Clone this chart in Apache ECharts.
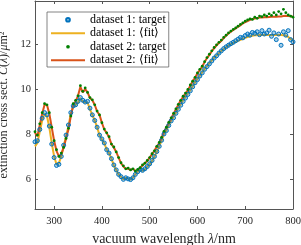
<!DOCTYPE html>
<html><head><meta charset="utf-8">
<script src="https://cdn.jsdelivr.net/npm/echarts@6/dist/echarts.min.js"></script>
<style>html,body{margin:0;padding:0;background:#fff}#c{width:301px;height:245px}</style>
</head><body><div id="c"></div>
<script>
const wavelength = [
260,265,270,275,280,285,290,295,300,305,
310,315,320,325,330,335,340,345,350,355,
360,365,370,375,380,385,390,395,400,405,
410,415,420,425,430,435,440,445,450,455,
460,465,470,475,480,485,490,495,500,505,
510,515,520,525,530,535,540,545,550,555,
560,565,570,575,580,585,590,595,600,605,
610,615,620,625,630,635,640,645,650,655,
660,665,670,675,680,685,690,695,700,705,
710,715,720,725,730,735,740,745,750,755,
760,765,770,775,780,785,790,795,800];
const target1 = [
7.65,7.7,8.2,8.7,8.95,8.85,8.35,7.55,6.95,6.6,
6.65,7.0,7.5,7.95,8.4,8.95,9.25,9.3,9.45,9.62,
9.5,9.42,9.45,9.15,8.85,8.6,8.3,7.95,7.78,7.6,
7.3,7.15,6.9,6.62,6.4,6.2,6.1,5.98,6.05,6.0,
5.97,6.05,6.2,6.32,6.42,6.38,6.45,6.55,6.67,6.82,
7.0,7.22,7.45,7.72,8.0,8.15,8.38,8.58,8.72,8.92,
9.1,9.28,9.45,9.6,9.76,9.92,10.1,10.28,10.42,10.58,
10.72,10.88,11.0,11.12,11.25,11.38,11.48,11.6,11.7,11.8,
11.88,11.95,12.02,12.08,12.15,12.22,12.3,12.28,12.38,12.45,
12.4,12.52,12.48,12.55,12.42,12.6,12.45,12.5,12.62,12.35,
12.5,12.2,12.45,11.95,12.55,12.4,12.6,12.2,12.1];
const fit1 = [
7.45,7.6,8.1,8.6,8.9,8.8,8.3,7.6,7.0,6.65,
6.7,7.0,7.45,7.9,8.35,8.9,9.2,9.3,9.4,9.6,
9.45,9.4,9.4,9.1,8.85,8.6,8.3,7.95,7.75,7.6,
7.3,7.15,6.9,6.6,6.4,6.2,6.1,5.98,6.05,6.02,
5.97,6.05,6.2,6.32,6.4,6.36,6.42,6.55,6.65,6.8,
7.0,7.2,7.45,7.7,8.0,8.15,8.4,8.6,8.75,8.95,
9.15,9.32,9.5,9.65,9.8,9.95,10.12,10.3,10.45,10.6,
10.75,10.9,11.02,11.15,11.28,11.4,11.5,11.6,11.7,11.78,
11.86,11.94,12.0,12.05,12.1,12.15,12.19,12.24,12.28,12.32,
12.35,12.37,12.39,12.4,12.41,12.41,12.41,12.41,12.41,12.41,
12.41,12.41,12.41,12.41,12.4,12.38,12.32,12.24,12.15];
const target2 = [
8.1,7.95,8.45,8.95,9.35,9.3,8.95,8.3,7.7,7.3,
7.0,7.15,7.4,7.8,8.25,8.8,9.35,9.5,9.7,10.15,
9.9,10.05,9.85,9.62,9.52,9.3,9.02,8.85,8.5,8.22,
8.05,7.88,7.55,7.42,7.2,6.95,6.72,6.58,6.45,6.48,
6.4,6.45,6.35,6.42,6.5,6.62,6.7,6.82,6.95,7.12,
7.25,7.45,7.62,7.85,8.12,8.3,8.52,8.72,8.92,9.12,
9.32,9.5,9.68,9.82,9.98,10.18,10.35,10.52,10.72,10.88,
11.02,11.22,11.4,11.55,11.7,11.85,11.97,12.08,12.18,12.3,
12.4,12.5,12.58,12.66,12.72,12.8,12.88,12.95,13.02,13.08,
13.12,13.1,13.2,13.15,13.25,13.22,13.3,13.25,13.35,13.28,
13.4,13.3,13.45,13.35,13.55,13.4,13.3,13.25,13.2];
const fit2 = [
8.05,7.9,8.4,8.9,9.3,9.3,8.9,8.3,7.7,7.25,
7.0,7.1,7.4,7.8,8.2,8.8,9.3,9.45,9.7,10.1,
9.85,10.0,9.85,9.6,9.5,9.3,9.0,8.85,8.5,8.2,
8.05,7.85,7.55,7.4,7.2,6.95,6.7,6.55,6.45,6.45,
6.4,6.45,6.35,6.4,6.5,6.6,6.7,6.8,6.95,7.1,
7.25,7.45,7.6,7.85,8.1,8.3,8.5,8.7,8.9,9.1,
9.3,9.5,9.65,9.8,9.95,10.15,10.35,10.5,10.7,10.85,
11.0,11.2,11.38,11.52,11.68,11.82,11.95,12.05,12.15,12.27,
12.38,12.47,12.56,12.63,12.7,12.78,12.84,12.92,12.98,13.03,
13.08,13.12,13.14,13.16,13.18,13.19,13.2,13.2,13.21,13.22,
13.22,13.22,13.23,13.23,13.25,13.26,13.25,13.24,13.22];
const xTicks = [300,400,500,600,700,800];
const yTicks = [6,8,10,12];
const names = ['dataset 1: target','dataset 1: \u27e8fit\u27e9','dataset 2: target','dataset 2: \u27e8fit\u27e9'];

const FONT = "'Liberation Serif', serif";
const AX = '#555';
const pairs = (ys) => wavelength.map((x, i) => [x, ys[i]]);

const chart = echarts.init(document.getElementById('c'), null, {renderer: 'canvas'});
const xBase = {type: 'value', min: 260, max: 800, splitLine: {show: false},
  axisLine: {show: true, lineStyle: {color: AX, width: 1}},
  axisTick: {show: true, inside: true, length: 3, customValues: xTicks, lineStyle: {color: AX}}};
const yBase = {type: 'value', min: 4.66, max: 13.92, splitLine: {show: false},
  axisLine: {show: true, lineStyle: {color: AX, width: 1}},
  axisTick: {show: true, inside: true, length: 3, customValues: yTicks, lineStyle: {color: AX}}};

chart.setOption({
  animation: false,
  grid: {left: 35, right: 8, top: 1, bottom: 36, containLabel: false, outerBoundsMode: 'none'},
  xAxis: [
    Object.assign({}, xBase, {position: 'bottom',
      axisLabel: {customValues: xTicks, margin: 7, color: '#262626', fontFamily: FONT, fontSize: 10.5},
      name: 'vacuum wavelength {i|\u03bb}/nm', nameLocation: 'middle', nameGap: 21,
      nameTextStyle: {color: '#262626', fontFamily: FONT, fontSize: 14,
        rich: {i: {fontStyle: 'italic', fontFamily: FONT, fontSize: 14, color: '#262626'}}}}),
    Object.assign({}, xBase, {position: 'top', axisLabel: {show: false}})
  ],
  yAxis: [
    Object.assign({}, yBase, {position: 'left',
      axisLabel: {customValues: yTicks, margin: 4, color: '#262626', fontFamily: FONT, fontSize: 10.5},
      name: 'extinction cross sect. {i|C\u0305}({i|\u03bb})/{i|\u03bc}m\u00b2', nameLocation: 'middle', nameGap: 17,
      nameTextStyle: {color: '#262626', fontFamily: FONT, fontSize: 12,
        rich: {i: {fontStyle: 'italic', fontFamily: FONT, fontSize: 12, color: '#262626'}}}}),
    Object.assign({}, yBase, {position: 'right', axisLabel: {show: false}})
  ],
  legend: {
    orient: 'vertical', left: 47, top: 12,
    itemWidth: 34, itemHeight: 4.6, itemGap: 0,
    padding: [1, 3, 0, 3],
    borderColor: '#666', borderWidth: 0.8, backgroundColor: '#fff',
    textStyle: {fontFamily: FONT, fontSize: 12, lineHeight: 13.5, color: '#000'},
    data: [
      {name: names[0]},
      {name: names[1], itemStyle: {opacity: 0}},
      {name: names[2]},
      {name: names[3], itemStyle: {opacity: 0}}
    ]
  },
  series: [
    {name: names[0], type: 'line', data: pairs(target1), symbol: 'circle', symbolSize: 4,
      showAllSymbol: true, lineStyle: {opacity: 0},
      itemStyle: {color: 'rgba(0,114,189,0.35)', borderColor: '#0072BD', borderWidth: 1}},
    {name: names[1], type: 'line', data: pairs(fit1), symbol: 'none',
      lineStyle: {color: '#EDB120', width: 2}, itemStyle: {color: '#EDB120'}},
    {name: names[2], type: 'line', data: pairs(target2), symbol: 'circle', symbolSize: 2.8,
      showAllSymbol: true, lineStyle: {opacity: 0},
      itemStyle: {color: '#008000'}},
    {name: names[3], type: 'line', data: pairs(fit2), symbol: 'none',
      lineStyle: {color: '#D95319', width: 2}, itemStyle: {color: '#D95319'}}
  ]
});
</script></body></html>
